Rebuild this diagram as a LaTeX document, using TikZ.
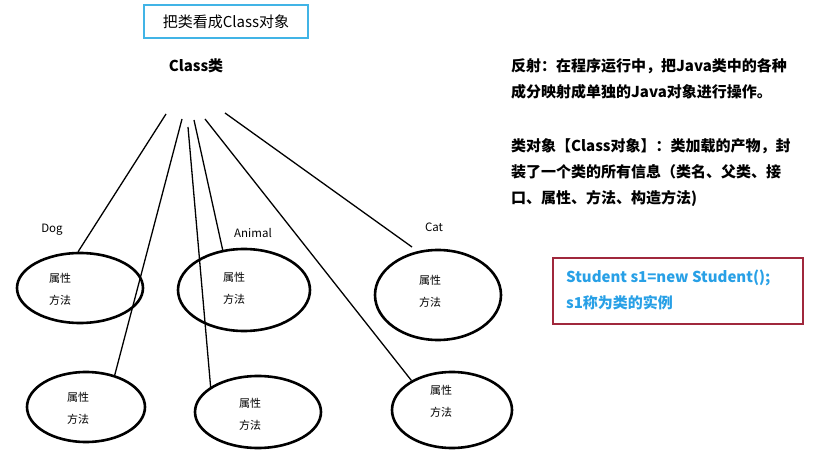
\documentclass[tikz,border=0pt]{standalone}
\usepackage{fontspec}
\setmainfont{Noto Sans CJK SC}
\usetikzlibrary{shapes.geometric}
\definecolor{boxblue}{RGB}{65,180,230}
\definecolor{txtblue}{RGB}{40,160,230}
\definecolor{boxred}{RGB}{160,40,60}

\begin{document}
\begin{tikzpicture}[x=1pt,y=-1pt,
    obj/.style={draw, ellipse, line width=2.6pt, inner sep=0pt},
    attr/.style={font=\fontsize{11}{22}\selectfont, align=center},
    kind/.style={font=\fontsize{11.5}{14}\selectfont},
    conn/.style={line width=1.3pt},
    note/.style={font=\bfseries\fontsize{15}{26}\selectfont, align=left, anchor=north west, inner sep=0pt}]
          \useasboundingbox (0,0) rectangle (827,462);
          \node[draw=boxblue, line width=1.8pt, minimum width=164pt, minimum height=33pt, font=\fontsize{15}{17}\selectfont] (title) at (226,21.5) {把类看成Class对象};
          \node[font=\bfseries\fontsize{15}{18}\selectfont] (cls) at (196,66) {Class类};
          \coordinate (c1) at (166,114);
          \coordinate (c2) at (182,119);
          \coordinate (c3) at (188,127);
          \coordinate (c4) at (194,120);
          \coordinate (c5) at (205,119);
          \coordinate (c6) at (225,113);
          \coordinate (catend) at (412,247);
          \node[obj, minimum width=126pt, minimum height=70pt] (dog1) at (80,288) {};
          \node[obj, minimum width=132pt, minimum height=82pt] (animal1) at (244,290) {};
          \node[obj, minimum width=126pt, minimum height=90pt] (cat1) at (438,295) {};
          \node[obj, minimum width=118pt, minimum height=70pt] (dog2) at (86,407) {};
          \node[obj, minimum width=126pt, minimum height=72pt] (animal2) at (258,412) {};
          \node[obj, minimum width=120pt, minimum height=76pt] (cat2) at (452,410) {};
          \node[attr] (t1) at (60,289) {属性\\方法};
          \node[attr] (t2) at (234,288) {属性\\方法};
          \node[attr] (t3) at (430,291) {属性\\方法};
          \node[attr] (t4) at (78,408.5) {属性\\方法};
          \node[attr] (t5) at (250,414) {属性\\方法};
          \node[attr] (t6) at (441,401) {属性\\方法};
          \node[kind] (dog) at (52,230) {Dog};
          \node[kind] (animal) at (253,233) {Animal};
          \node[kind] (cat) at (434,227) {Cat};
          \draw[conn] (c1) -- (dog1.93);
          \draw[conn] (c2) -- (dog2.48);
          \draw[conn] (c3) -- (animal2.152);
          \draw[conn] (c4) -- (animal1.118);
          \draw[conn] (c5) -- (cat2.144);
          \draw[conn] (c6) -- (catend);
          \node[note] (refl) at (511,58) {反射：在程序运行中，把Java类中的各种\\成分映射成单独的Java对象进行操作。};
          \node[note] (clsobj) at (511,138) {类对象【Class对象】：类加载的产物，封\\装了一个类的所有信息（类名、父类、接\\口、属性、方法、构造方法)};
          \node[draw=boxred, line width=1.5pt, minimum width=250pt, minimum height=66pt] (inst) at (678,291) {};
          \node[note, text=txtblue] (instxt) at (566,270) {Student s1=new Student();\\s1称为类的实例};
          \end{tikzpicture}
\end{document}
